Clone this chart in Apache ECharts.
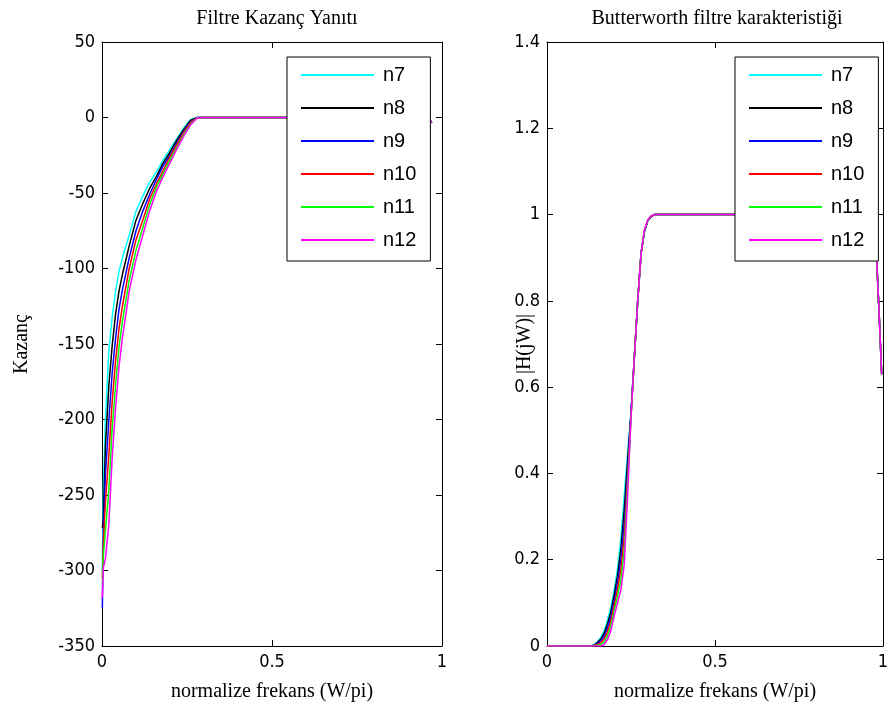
<!DOCTYPE html>
<html lang="tr">
<head>
    <meta charset="UTF-8">
    <title>Butterworth filtre</title>
    <style>
        html, body { margin: 0; padding: 0; background: #fff; }
        #chart { width: 895px; height: 718px; }
    </style>
</head>
<body>
<div id="chart"></div>
<script src="https://cdn.jsdelivr.net/npm/echarts@6/dist/echarts.min.js"></script>
<script type="text/javascript">
    // seri adlari ve renkleri
    var seriesNames = ['n7', 'n8', 'n9', 'n10', 'n11', 'n12'];
    var seriesColors = ['#00ffff', '#000000', '#0000ff', '#ff0000', '#00ff00', '#ff00ff'];

    // sol grafik: kazanc (dB), normalize frekans
    var freqGain = [0.001, 0.004, 0.01, 0.02, 0.03, 0.04, 0.05, 0.06, 0.08, 0.10, 0.12, 0.14, 0.16, 0.18,
        0.20, 0.22, 0.24, 0.26, 0.28, 0.30, 0.5, 0.9, 0.96, 0.97];
    var gainN7 = [-300, -245, -200, -155, -132, -115, -102, -93, -78, -62, -52, -43, -36, -28,
        -21, -14, -7, -1.5, 0, 0, 0, 0, 0, -3.5];
    var gainN8 = [-272, -265, -218, -178, -151, -130, -115, -104, -85, -68, -57, -47, -39, -30,
        -23, -15, -8, -2, 0, 0, 0, 0, 0, -3.5];
    var gainN9 = [-325, -275, -237, -201, -169, -146, -127, -114, -93, -75, -62, -51, -41, -32,
        -25, -17, -9, -3, 0, 0, 0, 0, 0, -3.5];
    var gainN10 = [-305, -282, -255, -224, -188, -161, -140, -125, -100, -81, -68, -54, -44, -35,
        -26, -18, -10, -3.5, -0.1, 0, 0, 0, 0, -3.5];
    var gainN11 = [-310, -290, -274, -247, -206, -177, -152, -135, -108, -88, -73, -58, -46, -37,
        -28, -20, -11.5, -4.5, -0.2, 0, 0, 0, 0, -3.5];
    var gainN12 = [-318, -298, -292, -270, -225, -192, -165, -146, -115, -94, -78, -62, -49, -39,
        -30, -21, -12.5, -5, -0.3, 0, 0, 0, 0, -3.5];

    // sag grafik: |H(jW)|
    var freqMag = [0, 0.13, 0.14, 0.15, 0.16, 0.17, 0.18, 0.19, 0.20, 0.21, 0.22, 0.23, 0.24, 0.25,
        0.26, 0.27, 0.28, 0.29, 0.30, 0.31, 0.32, 0.35, 0.5, 0.9, 0.975, 0.981, 0.988, 0.996];
    var magN7 = [0, 0, 0.003, 0.01, 0.02, 0.035, 0.06, 0.09, 0.13, 0.18, 0.25, 0.35, 0.45, 0.54,
        0.67, 0.80, 0.91, 0.96, 0.985, 0.995, 1, 1, 1, 1, 1, 0.9, 0.78, 0.63];
    var magN8 = [0, 0, 0.002, 0.008, 0.016, 0.029, 0.051, 0.079, 0.118, 0.164, 0.226, 0.318, 0.43, 0.54,
        0.67, 0.80, 0.91, 0.961, 0.986, 0.995, 1, 1, 1, 1, 1, 0.9, 0.78, 0.63];
    var magN9 = [0, 0, 0.002, 0.006, 0.012, 0.022, 0.042, 0.068, 0.106, 0.148, 0.202, 0.286, 0.41, 0.54,
        0.67, 0.80, 0.91, 0.962, 0.986, 0.996, 1, 1, 1, 1, 1, 0.9, 0.78, 0.63];
    var magN10 = [0, 0, 0.001, 0.004, 0.008, 0.016, 0.033, 0.057, 0.094, 0.132, 0.178, 0.254, 0.39, 0.53,
        0.67, 0.80, 0.91, 0.963, 0.987, 0.996, 1, 1, 1, 1, 1, 0.9, 0.78, 0.63];
    var magN11 = [0, 0, 0.001, 0.002, 0.004, 0.009, 0.024, 0.046, 0.082, 0.116, 0.154, 0.222, 0.37, 0.53,
        0.67, 0.80, 0.91, 0.964, 0.987, 0.997, 1, 1, 1, 1, 1, 0.9, 0.78, 0.63];
    var magN12 = [0, 0, 0, 0, 0, 0.003, 0.015, 0.035, 0.07, 0.10, 0.13, 0.19, 0.35, 0.53,
        0.67, 0.80, 0.91, 0.965, 0.988, 0.997, 1, 1, 1, 1, 1, 0.9, 0.78, 0.63];

    var gainSets = [gainN7, gainN8, gainN9, gainN10, gainN11, gainN12];
    var magSets = [magN7, magN8, magN9, magN10, magN11, magN12];

    var serif = "'Liberation Serif', 'Times New Roman', serif";
    var sans = "'Liberation Sans Narrow', 'DejaVu Sans Condensed', 'Liberation Sans', Arial, sans-serif";

    function pairs(xs, ys) {
        var out = [];
        for (var i = 0; i < xs.length; i++) {
            out.push([xs[i], ys[i]]);
        }
        return out;
    }

    // MATLAB tarzi kutu: alt/sol etiketli, ust/sag sadece tik
    function boxAxis(gridIndex, position, min, max, interval, showLabel, name, nameGap) {
        var axis = {
            type: 'value',
            gridIndex: gridIndex,
            position: position,
            min: min,
            max: max,
            interval: interval,
            splitLine: { show: false },
            axisLine: { show: true, onZero: false, lineStyle: { color: '#000', width: 1 } },
            axisTick: { show: true, inside: true, length: 6, lineStyle: { color: '#000' } },
            axisLabel: {
                show: showLabel,
                color: '#000',
                fontFamily: sans,
                fontSize: 18,
                margin: 7
            }
        };
        if (name) {
            axis.name = name;
            axis.nameLocation = 'middle';
            axis.nameGap = nameGap;
            axis.nameMoveOverlap = false;
            axis.nameTextStyle = { fontFamily: serif, fontSize: 20, color: '#000' };
        }
        return axis;
    }

    function legendAt(left) {
        return {
            left: left,
            top: 57,
            orient: 'vertical',
            data: seriesNames,
            icon: 'rect',
            itemWidth: 73,
            itemHeight: 2,
            itemGap: 13,
            padding: [8, 14, 11, 14],
            backgroundColor: '#fff',
            borderColor: '#000',
            borderWidth: 1,
            selectedMode: false,
            textStyle: { fontFamily: 'Liberation Sans, Arial, sans-serif', fontSize: 20, lineHeight: 20,
                color: '#000', padding: [0, 0, 0, 4] }
        };
    }

    var series = [];
    for (var i = 0; i < seriesNames.length; i++) {
        series.push({
            name: seriesNames[i], type: 'line', xAxisIndex: 0, yAxisIndex: 0,
            data: pairs(freqGain, gainSets[i]), showSymbol: false,
            lineStyle: { color: seriesColors[i], width: 1.5 }, itemStyle: { color: seriesColors[i] }
        });
    }
    for (var j = 0; j < seriesNames.length; j++) {
        series.push({
            name: seriesNames[j], type: 'line', xAxisIndex: 2, yAxisIndex: 2,
            data: pairs(freqMag, magSets[j]), showSymbol: false,
            lineStyle: { color: seriesColors[j], width: 1.5 }, itemStyle: { color: seriesColors[j] }
        });
    }

    var option = {
        animation: false,
        backgroundColor: '#fff',
        title: [
            { text: 'Filtre Kazanç Yanıtı', left: 272, top: 4, textAlign: 'center',
                textStyle: { fontFamily: serif, fontSize: 20, fontWeight: 'normal', color: '#000' } },
            { text: 'Butterworth filtre karakteristiği', left: 712, top: 4, textAlign: 'center',
                textStyle: { fontFamily: serif, fontSize: 20, fontWeight: 'normal', color: '#000' } }
        ],
        legend: [legendAt(287), legendAt(735)],
        grid: [
            { left: 102, top: 42, width: 340, height: 604 },
            { left: 547, top: 42, width: 336, height: 604 }
        ],
        xAxis: [
            boxAxis(0, 'bottom', 0, 1, 0.5, true, 'normalize frekans (W/pi)', 36),
            boxAxis(0, 'top', 0, 1, 0.5, false),
            boxAxis(1, 'bottom', 0, 1, 0.5, true, 'normalize frekans (W/pi)', 36),
            boxAxis(1, 'top', 0, 1, 0.5, false)
        ],
        yAxis: [
            boxAxis(0, 'left', -350, 50, 50, true, 'Kazanç', 70),
            boxAxis(0, 'right', -350, 50, 50, false),
            boxAxis(1, 'left', 0, 1.4, 0.2, true, '|H(jW)|', 12),
            boxAxis(1, 'right', 0, 1.4, 0.2, false)
        ],
        series: series
    };

    var chart = echarts.init(document.getElementById('chart'));
    chart.setOption(option);
</script>
</body>
</html>
